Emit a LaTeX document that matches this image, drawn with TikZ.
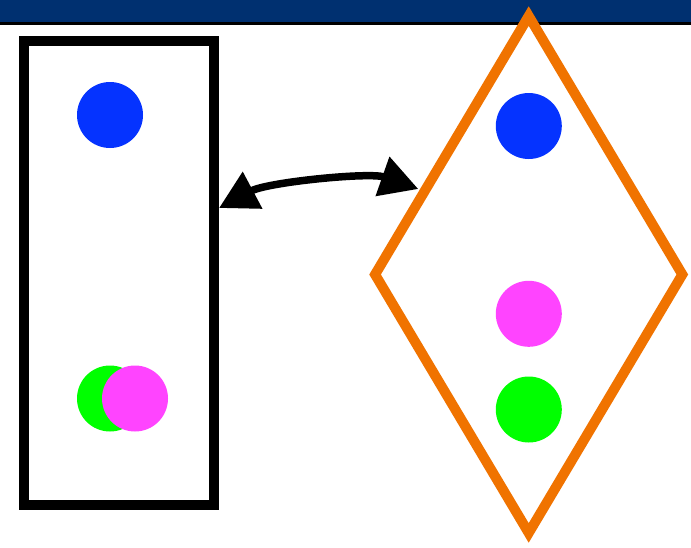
\documentclass[tikz,border=0pt]{standalone}
\usetikzlibrary{shapes.geometric,arrows.meta}
\definecolor{barblue}{RGB}{0,48,112}
\definecolor{dotblue}{RGB}{5,51,255}
\definecolor{dotpink}{RGB}{255,68,255}
\definecolor{dotgreen}{RGB}{0,255,0}
\definecolor{frameorange}{RGB}{240,115,0}
\tikzset{
  dot/.style={circle, inner sep=0pt, minimum size=66pt, draw=none, fill=#1},
  boxframe/.style={rectangle, draw=black, line width=10pt, inner sep=0pt, fill=none},
  diaframe/.style={diamond, draw=frameorange, line width=10pt, inner sep=0pt, fill=none},
  bigtip/.style={Triangle[length=38pt 0 0, width=40pt 0 0]},
  link/.style={line width=7.5pt, {Triangle[length=38pt 0 0,width=40pt 0 0]}-{Triangle[length=38pt 0 0,width=40pt 0 0]}}
}
\begin{document}
\begin{tikzpicture}[x=1pt, y=-1pt]
  % canvas
  \fill[white] (0,0) rectangle (691,547);
  \useasboundingbox (0,0) rectangle (691,547);
  % header band
  \fill[barblue] (0,0) rectangle (691,22);
  \fill[black] (0,22) rectangle (691,25);

  % left container
  \node[boxframe, minimum width=189.7pt, minimum height=463.7pt] (box) at (119.2,273.2) {};
  \node[dot=dotblue]  (lb) at (110,115) {};
  \node[dot=dotgreen] (lg) at (110,398.5) {};
  \node[dot=dotpink]  (lp) at (135,398.5) {};

  % right container
  \node[diaframe, minimum width=311.4pt, minimum height=521pt] (dia) at (528.7,274.5) {};
  \node[dot=dotblue]  (rb) at (528.8,126) {};
  \node[dot=dotpink]  (rp) at (528.8,313.8) {};
  \node[dot=dotgreen] (rg) at (528.8,409.5) {};

  % double-headed link between the containers
  \coordinate (la) at (box.east |- 0,208);
  \coordinate (ra) at (418.3,189);
  \draw[link] (la) .. controls (268,182) and (370,172) .. (ra);
\end{tikzpicture}
\end{document}
